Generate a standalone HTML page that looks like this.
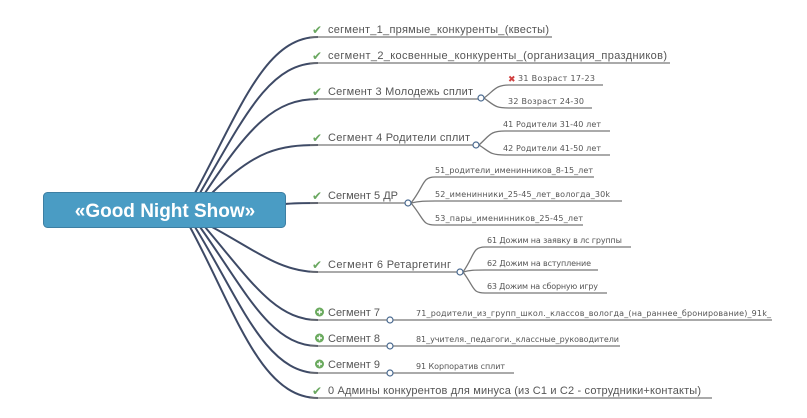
<!DOCTYPE html>
<html><head><meta charset="utf-8"><style>
html,body{margin:0;padding:0;background:#fff;}
svg{display:block;}
.t{font-family:"Liberation Sans","DejaVu Sans",sans-serif;font-size:11px;fill:#555;}
.c{font-family:"DejaVu Sans","Liberation Sans",sans-serif;font-size:8px;fill:#555;}
</style></head><body>
<svg width="807" height="418" viewBox="0 0 807 418" xmlns="http://www.w3.org/2000/svg">
<g fill="none" stroke="#3e4a66" stroke-width="2">
<path d="M195,193 C240,110 265,37 318,37"/>
<path d="M200,193 C245,115 270,63 318,63"/>
<path d="M205,193 C250,125 275,99 318,99"/>
<path d="M212,193 C255,150 280,145 318,145"/>
<path d="M285,204 C295,203 305,203 318,203"/>
<path d="M212,227 C255,250 280,272 318,272"/>
<path d="M205,227 C250,280 275,320 318,320"/>
<path d="M200,227 C245,290 270,346 318,346"/>
<path d="M195,227 C240,300 265,373 318,373"/>
<path d="M190,227 C235,310 260,398 318,398"/>
</g>
<g fill="none" stroke="#777" stroke-width="1.3">
<path d="M310,37 H552"/><path d="M310,63 H670"/>
<path d="M310,99 H478"/><path d="M310,145 H473"/>
<path d="M310,203 H405"/><path d="M310,272 H457"/>
<path d="M310,320 H387"/><path d="M310,346 H387"/>
<path d="M310,373 H387"/><path d="M310,398 H712"/>
<path d="M484,98 C495,90 495,85 510,85 H603"/>
<path d="M484,98 C495,106 495,108 510,108 H592"/>
<path d="M479,145 C490,135 490,131 505,131 H610"/>
<path d="M479,145 C490,152 490,155 505,155 H610"/>
<path d="M411,203 C425,185 422,177 435,177 H594"/>
<path d="M411,203 C420,201 425,201 435,201 H622"/>
<path d="M411,203 C425,220 422,225 435,225 H583"/>
<path d="M463,272 C475,255 472,247 485,247 H631"/>
<path d="M463,272 C470,270 475,270 485,270 H598"/>
<path d="M463,272 C475,288 472,293 485,293 H607"/>
<path d="M393,320 H772"/><path d="M393,346 H620"/><path d="M393,373 H514"/>
</g>
<g fill="#fff" stroke="#4a6a90" stroke-width="1.2">
<circle cx="481" cy="98" r="3"/><circle cx="476" cy="145" r="3"/>
<circle cx="408" cy="203" r="3"/><circle cx="460" cy="272" r="3"/>
<circle cx="390" cy="320" r="3"/><circle cx="390" cy="346" r="3"/>
<circle cx="390" cy="373" r="3"/>
</g>
<rect x="43.5" y="192.5" width="242" height="35" rx="4" fill="#4a9cc4" stroke="#3d7fa3"/>
<text x="165" y="217" text-anchor="middle" font-family="Liberation Sans,sans-serif" font-weight="bold" font-size="19" fill="#fff">«Good Night Show»</text>
<g fill="#6aa860" font-family="DejaVu Sans,sans-serif" font-size="12">
<text x="312" y="34">✔</text><text x="312" y="60">✔</text><text x="312" y="96">✔</text>
<text x="312" y="142">✔</text><text x="312" y="200">✔</text><text x="312" y="269">✔</text>
<text x="312" y="395">✔</text>
</g>
<g fill="#6aaa5e"><circle cx="319.5" cy="312" r="4.5"/><circle cx="319.5" cy="338" r="4.5"/><circle cx="319.5" cy="364" r="4.5"/></g>
<g stroke="#fff" stroke-width="1.4"><path d="M317,312h5M319.5,309.5v5M317,338h5M319.5,335.5v5M317,364h5M319.5,361.5v5"/></g>
<g class="t" lengthAdjust="spacing">
<text x="328" y="33" textLength="221">сегмент_1_прямые_конкуренты_(квесты)</text>
<text x="328" y="59" textLength="339">сегмент_2_косвенные_конкуренты_(организация_праздников)</text>
<text x="328" y="95" textLength="145">Сегмент 3 Молодежь сплит</text>
<text x="328" y="141" textLength="142">Сегмент 4 Родители сплит</text>
<text x="328" y="199" textLength="70">Сегмент 5 ДР</text>
<text x="328" y="268" textLength="123">Сегмент 6 Ретаргетинг</text>
<text x="328" y="316" textLength="52">Сегмент 7</text>
<text x="328" y="342" textLength="52">Сегмент 8</text>
<text x="328" y="368" textLength="52">Сегмент 9</text>
<text x="328" y="394" textLength="373">0 Админы конкурентов для минуса (из С1 и С2 - сотрудники+контакты)</text>
</g>
<text x="508" y="82" fill="#d04040" font-family="DejaVu Sans,sans-serif" font-size="9">✖</text>
<g class="c">
<text x="518" y="81" textLength="77">31 Возраст 17-23</text>
<text x="508" y="104" textLength="76">32 Возраст 24-30</text>
<text x="503" y="127" textLength="98">41 Родители 31-40 лет</text>
<text x="503" y="151" textLength="98">42 Родители 41-50 лет</text>
<text x="435" y="173" textLength="158">51_родители_именинников_8-15_лет</text>
<text x="435" y="197" textLength="175">52_именинники_25-45_лет_вологда_30k</text>
<text x="435" y="221" textLength="148">53_пары_именинников_25-45_лет</text>
<text x="487" y="243" textLength="135">61 Дожим на заявку в лс группы</text>
<text x="487" y="266" textLength="104">62 Дожим на вступление</text>
<text x="487" y="289" textLength="111">63 Дожим на сборную игру</text>
<text x="416" y="316" textLength="355">71_родители_из_групп_школ._классов_вологда_(на_раннее_бронирование)_91k_</text>
<text x="416" y="342" textLength="203">81_учителя._педагоги._классные_руководители</text>
<text x="416" y="369" textLength="89">91 Корпоратив сплит</text>
</g>
</svg>
</body></html>
